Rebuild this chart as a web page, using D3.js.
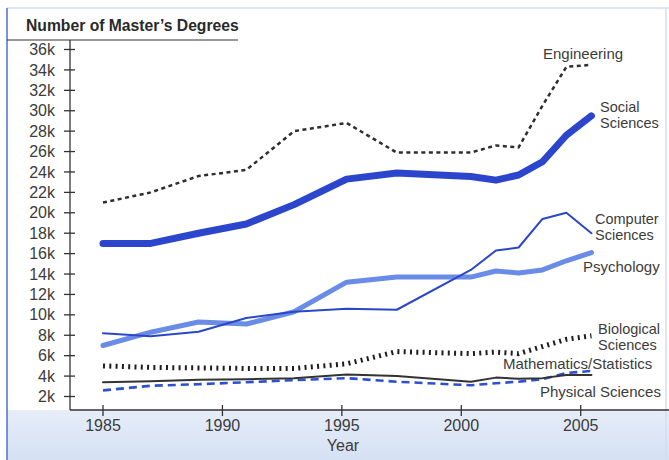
<!DOCTYPE html>
<html>
<head>
<meta charset="utf-8">
<script src="https://cdn.jsdelivr.net/npm/d3@7"></script>
<style>
  html, body { margin: 0; padding: 0; background: #fff; }
  svg { display: block; font-family: "Liberation Sans", Arial, Helvetica, sans-serif; }
</style>
</head>
<body>
<svg id="chart" width="669" height="460"></svg>
<script>
// ---- data ----
const years = [1985, 1987, 1989, 1991, 1993, 1995.2, 1997.3, 2000.4, 2001.45, 2002.4, 2003.4, 2004.4, 2005.45];
const engineering    = [21000, 22000, 23600, 24200, 28000, 28800, 25900, 25900, 26600, 26400, 30500, 34300, 34500];
const socialSciences = [17000, 17000, 18000, 18900, 20800, 23300, 23900, 23550, 23200, 23700, 25000, 27600, 29500];
const computerSci    = [8200, 7900, 8350, 9700, 10300, 10600, 10500, 14400, 16300, 16600, 19400, 20000, 18000];
const psychology     = [7000, 8300, 9300, 9100, 10300, 13200, 13700, 13700, 14300, 14100, 14400, 15300, 16100];
const biological     = [5000, 4850, 4800, 4750, 4750, 5200, 6400, 6200, 6350, 6200, 6900, 7600, 7950];
const mathStats      = [3400, 3500, 3650, 3700, 3800, 4150, 4000, 3450, 3850, 3750, 3800, 4100, 4100];
const physical       = [2600, 3050, 3200, 3400, 3600, 3800, 3450, 3100, 3300, 3450, 3700, 4300, 4500];

const xTicks = [1985, 1990, 1995, 2000, 2005];
const yTicks = [2000, 4000, 6000, 8000, 10000, 12000, 14000, 16000, 18000, 20000, 22000, 24000, 26000, 28000, 30000, 32000, 34000, 36000];
const yTickLabels = ["2k","4k","6k","8k","10k","12k","14k","16k","18k","20k","22k","24k","26k","28k","30k","32k","34k","36k"];
const title = "Number of Master\u2019s Degrees";
const xTitle = "Year";

// ---- layout ----
const svg = d3.select("#chart");
const W = 669, H = 460;
const axisY = 410, axisX = 70;
const x = d3.scaleLinear().domain([1985, 2005]).range([103, 580.7]);
const y = d3.scaleLinear().domain([2000, 36000]).range([396.5, 49.5]);
const textColor = "#3c3c3c";

// background band below axis
const grad = svg.append("defs").append("linearGradient").attr("id", "band").attr("x1", 0).attr("y1", 0).attr("x2", 0).attr("y2", 1);
grad.append("stop").attr("offset", "0%").attr("stop-color", "#e6edf8");
grad.append("stop").attr("offset", "100%").attr("stop-color", "#d5e1f4");
svg.append("rect").attr("x", 7).attr("y", axisY).attr("width", W - 7).attr("height", H - axisY).attr("fill", "url(#band)");

// frame
svg.append("line").attr("x1", 7).attr("x2", W).attr("y1", 8).attr("y2", 8).attr("stroke", "#b9c9ec").attr("stroke-width", 1.2);
svg.append("line").attr("x1", 7).attr("x2", 7).attr("y1", 8).attr("y2", H).attr("stroke", "#4f6fd0").attr("stroke-width", 1.5);
svg.append("line").attr("x1", 666).attr("x2", 666).attr("y1", 8).attr("y2", H).attr("stroke", "#d3def3").attr("stroke-width", 1.5);

// title and rule
svg.append("text").attr("x", 26).attr("y", 31).attr("font-size", 15.7).attr("font-weight", "bold")
  .attr("fill", "#2a2a2a").text(title);
svg.append("line").attr("x1", 7).attr("x2", 238).attr("y1", 40).attr("y2", 40).attr("stroke", "#333").attr("stroke-width", 1);

// y axis
svg.append("line").attr("x1", axisX).attr("x2", axisX).attr("y1", 40).attr("y2", axisY).attr("stroke", "#333").attr("stroke-width", 1.3);
const yg = svg.append("g");
yTicks.forEach((v, i) => {
  yg.append("line").attr("x1", axisX - 6).attr("x2", axisX + 5).attr("y1", y(v)).attr("y2", y(v)).attr("stroke", "#333").attr("stroke-width", 1.3);
  yg.append("text").attr("x", 55).attr("y", y(v)).attr("dy", "0.35em").attr("text-anchor", "end")
    .attr("font-size", 16).attr("fill", textColor).text(yTickLabels[i]);
});

// x axis
svg.append("line").attr("x1", axisX).attr("x2", W).attr("y1", axisY).attr("y2", axisY).attr("stroke", "#333").attr("stroke-width", 1.3);
const xg = svg.append("g");
xTicks.forEach(t => {
  xg.append("line").attr("x1", x(t)).attr("x2", x(t)).attr("y1", axisY - 5).attr("y2", axisY + 6).attr("stroke", "#333").attr("stroke-width", 1.3);
  xg.append("text").attr("x", x(t)).attr("y", 425).attr("dy", "0.35em").attr("text-anchor", "middle")
    .attr("font-size", 16).attr("fill", textColor).text(t);
});
svg.append("text").attr("x", 343).attr("y", 445).attr("dy", "0.35em").attr("text-anchor", "middle")
  .attr("font-size", 16).attr("fill", textColor).text(xTitle);

// series
const line = d3.line().x((d, i) => x(years[i])).y(d => y(d));
const series = [
  { v: physical,       color: "#2d4fd0", w: 2.6, dash: "8,5" },
  { v: mathStats,      color: "#333333", w: 2,   dash: null },
  { v: biological,     color: "#1e1e1e", w: 5,   dash: "2,4.3" },
  { v: psychology,     color: "#6a8ce6", w: 5,   dash: null },
  { v: computerSci,    color: "#2a47c8", w: 2,   dash: null },
  { v: socialSciences, color: "#2b46cc", w: 7,   dash: null },
  { v: engineering,    color: "#2e2e2e", w: 2.5, dash: "4,3.5" }
];
series.forEach(s => {
  svg.append("path").attr("d", line(s.v)).attr("fill", "none").attr("stroke", s.color)
    .attr("stroke-width", s.w).attr("stroke-linejoin", "round")
    .attr("stroke-linecap", s.dash ? "butt" : "round")
    .attr("stroke-dasharray", s.dash);
});

// labels
const labels = [
  { lines: ["Engineering"], x: 543, y: 54, fs: 15 },
  { lines: ["Social", "Sciences"], x: 600, y: 106.5, fs: 14.5 },
  { lines: ["Computer", "Sciences"], x: 595, y: 218.5, fs: 14.5 },
  { lines: ["Psychology"], x: 583, y: 267, fs: 15 },
  { lines: ["Biological", "Sciences"], x: 598, y: 328.5, fs: 14.5 },
  { lines: ["Mathematics/Statistics"], x: 503, y: 363.5, fs: 15 },
  { lines: ["Physical Sciences"], x: 540, y: 392, fs: 15 }
];
labels.forEach(l => {
  l.lines.forEach((s, i) => {
    svg.append("text").attr("x", l.x).attr("y", l.y + i * 16.4).attr("dy", "0.35em")
      .attr("font-size", l.fs).attr("fill", textColor).text(s);
  });
});
</script>
</body>
</html>
